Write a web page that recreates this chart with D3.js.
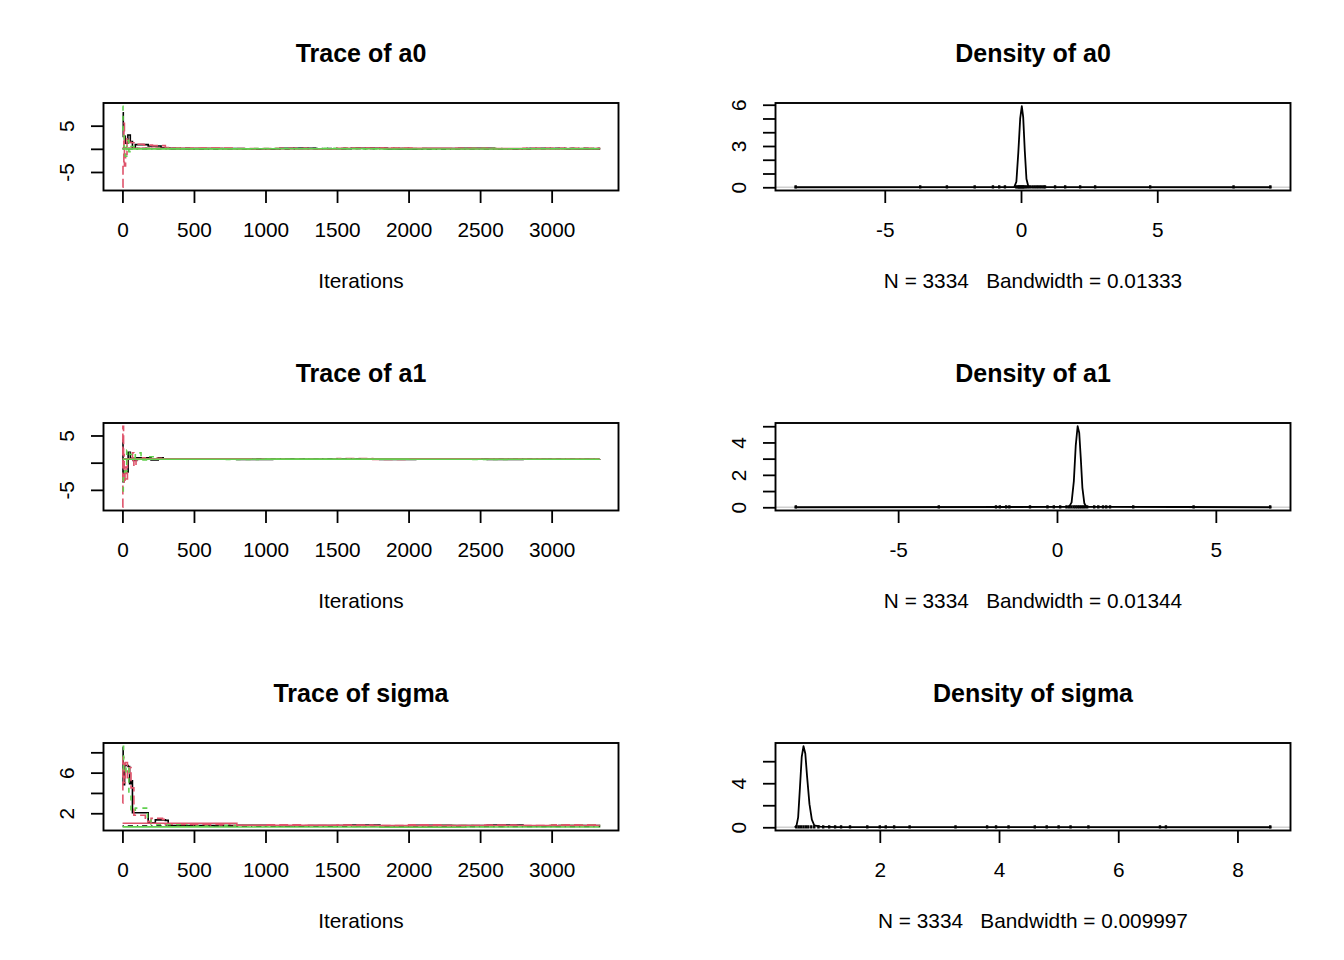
<!DOCTYPE html>
<html>
<head>
<meta charset="utf-8">
<script src="https://cdn.jsdelivr.net/npm/d3@7"></script>
<style>
  body { margin: 0; background: #fff; }
  svg text { font-family: "Liberation Sans", Arial, Helvetica, sans-serif; fill: #000; white-space: pre; }
</style>
</head>
<body>
<svg id="chart" width="1344" height="960"></svg>
<script>
// ---- data ----
var nIter = 3334;
var iterTicks = [0, 500, 1000, 1500, 2000, 2500, 3000];

// trace chains: [iteration, value]
var a0Chain1 = [[1,7.8],[6,2.7],[20,1.2],[38,3.0],[55,1.6],[70,0.2],[90,0.9],[180,0.6],[270,0.25],[330,0.05],[600,0.08],[850,-0.03],[1100,0.1],[1350,0.02],[1600,0.12],[1850,-0.04],[2100,0.06],[2350,0.1],[2600,0.0],[2850,0.07],[3100,-0.02],[3334,0.04]];
var a0Chain2 = [[1,-8.3],[4,-3.8],[10,5.5],[14,-3.7],[22,-1.2],[32,2.4],[48,1.4],[62,1.3],[95,1.0],[150,0.8],[210,0.7],[300,0.3],[340,0.1],[550,0.15],[800,0.05],[1050,0.12],[1300,-0.02],[1550,0.1],[1800,0.15],[2050,0.03],[2300,0.11],[2550,-0.03],[2800,0.09],[3050,0.13],[3334,0.02]];
var a0Chain3 = [[1,9.2],[4,3.2],[12,0.3],[20,-1.6],[30,1.8],[45,-0.6],[60,0.5],[80,-0.3],[100,0.1],[400,0.06],[650,-0.04],[900,0.08],[1150,0.02],[1400,0.1],[1650,-0.03],[1900,0.07],[2150,0.0],[2400,0.09],[2650,0.03],[2900,-0.02],[3150,0.08],[3334,0.01]];
var a0Chain4 = [[1,0.05],[500,-0.05],[1200,0.08],[2000,-0.02],[2800,0.06],[3334,0.0]];
var a0Chain5 = [[1,0.1],[700,0.02],[1500,0.12],[2300,0.04],[3334,0.08]];
var a0Chain6 = [[1,0.0],[900,0.02],[1800,-0.02],[2700,0.01],[3334,0.0]];

var a1Chain1 = [[1,4.2],[4,-3.5],[10,-1.6],[28,-1.7],[40,1.9],[55,0.8],[75,0.4],[100,0.9],[200,0.5],[250,0.9],[285,0.64],[550,0.68],[800,0.6],[1050,0.7],[1300,0.62],[1550,0.72],[1800,0.58],[2050,0.66],[2300,0.7],[2550,0.6],[2800,0.67],[3050,0.63],[3334,0.69]];
var a1Chain2 = [[1,-8.2],[3,6.7],[8,1.5],[12,-3.8],[18,-0.8],[25,-3.0],[35,0.5],[70,1.8],[80,-0.7],[95,0.6],[120,0.9],[160,0.7],[240,0.8],[290,0.66],[500,0.72],[750,0.62],[1000,0.7],[1250,0.66],[1500,0.74],[1750,0.6],[2000,0.68],[2250,0.71],[2500,0.63],[2750,0.7],[3000,0.65],[3334,0.68]];
var a1Chain3 = [[1,-5.2],[6,-2.8],[15,-1.6],[30,2.3],[50,1.5],[70,0.9],[90,1.8],[130,0.5],[180,1.1],[230,0.7],[270,0.64],[450,0.7],[700,0.6],[950,0.68],[1200,0.72],[1450,0.62],[1700,0.69],[1950,0.64],[2200,0.71],[2450,0.61],[2700,0.67],[2950,0.7],[3334,0.64]];
var a1Chain4 = [[1,0.66],[600,0.62],[1400,0.7],[2200,0.63],[3334,0.67]];
var a1Chain5 = [[1,0.7],[900,0.64],[1700,0.72],[2500,0.66],[3334,0.69]];
var a1Chain6 = [[1,0.64],[1000,0.65],[2000,0.63],[3334,0.64]];

var sigmaChain1 = [[1,8.5],[5,4.8],[15,6.7],[40,6.6],[50,4.9],[60,5.2],[70,2.05],[170,2.05],[180,1.05],[230,1.35],[300,1.3],[320,0.8],[550,0.78],[800,0.82],[1050,0.76],[1300,0.8],[1550,0.84],[1800,0.77],[2050,0.81],[2300,0.79],[2550,0.83],[2800,0.76],[3050,0.8],[3334,0.78]];
var sigmaChain2 = [[1,3.0],[3,7.5],[10,5.0],[20,7.0],[35,5.5],[50,6.5],[60,4.5],[80,1.8],[130,1.8],[160,1.2],[200,1.5],[280,1.4],[300,0.9],[500,0.85],[750,0.8],[1000,0.86],[1250,0.8],[1500,0.84],[1750,0.78],[2000,0.85],[2250,0.8],[2500,0.83],[2750,0.79],[3000,0.86],[3334,0.81]];
var sigmaChain3 = [[1,8.6],[8,6.0],[25,6.6],[45,4.0],[60,2.2],[90,2.5],[150,2.5],[175,1.4],[200,0.9],[450,0.74],[700,0.78],[950,0.72],[1200,0.76],[1450,0.7],[1700,0.77],[1950,0.73],[2200,0.78],[2450,0.71],[2700,0.75],[2950,0.79],[3334,0.73]];
var sigmaChain4 = [[1,0.75],[800,0.72],[1600,0.76],[2400,0.71],[3334,0.74]];
var sigmaChain5 = [[1,1.02],[800,0.82],[1600,0.78],[2400,0.8],[3334,0.79]];
var sigmaChain6 = [[1,0.66],[600,0.64],[1200,0.65],[1800,0.62],[2400,0.64],[3334,0.65]];

// trace y ticks / labels
var a0TraceTicks = [-5, 0, 5], a0TraceLabels = [-5, 5];
var a1TraceTicks = [-5, 0, 5], a1TraceLabels = [-5, 5];
var sigmaTraceTicks = [2, 4, 6, 8], sigmaTraceLabels = [2, 6];

// density curves: [x, density]
var a0Density = [[-8.31,0],[-0.25,0.01],[-0.17,0.4],[-0.1,2.5],[-0.03,5.0],[0.03,5.89],[0.08,5.1],[0.14,2.6],[0.2,0.6],[0.27,0.06],[0.35,0.02],[9.19,0]];
var a1Density = [[-8.26,0],[0.38,0.02],[0.46,0.3],[0.53,1.6],[0.59,3.8],[0.65,5.0],[0.7,4.6],[0.75,3.0],[0.8,1.2],[0.86,0.25],[0.92,0.03],[6.75,0]];
var sigmaDensity = [[0.57,0],[0.6,0.08],[0.63,0.9],[0.66,3.6],[0.69,6.4],[0.72,7.36],[0.75,6.7],[0.78,4.6],[0.82,2.1],[0.86,0.7],[0.9,0.18],[1.0,0.05],[1.3,0.02],[8.57,0]];

// observations shown under the densities
var a0Obs = [-8.27,-3.7,-2.72,-1.7,-1.03,-0.8,-0.59,-0.18,-0.12,-0.08,-0.04,0,0.04,0.08,0.12,0.18,0.25,0.33,0.42,0.5,0.58,0.66,0.74,0.82,0.88,1.25,1.62,2.17,2.72,4.74,7.8,9.15];
var a1Obs = [-8.22,-3.72,-1.92,-1.8,-1.6,-1.5,-0.85,-0.3,-0.1,0.1,0.3,0.38,0.45,0.52,0.58,0.64,0.7,0.76,0.82,0.88,0.95,1.17,1.3,1.45,1.55,1.67,2.4,4.3,6.71];
var sigmaObs = [0.6,0.64,0.68,0.72,0.76,0.8,0.85,0.9,0.97,1.05,1.15,1.25,1.35,1.5,1.79,2.0,2.1,2.24,2.5,3.27,3.8,3.95,4.16,4.6,4.8,5.0,5.2,5.5,6.7,6.8,8.55];

var a0DensXTicks = [-5, 0, 5], a0DensYTicks = [0,1,2,3,4,5,6], a0DensYLabels = [0, 3, 6];
var a1DensXTicks = [-5, 0, 5], a1DensYTicks = [0,1,2,3,4,5], a1DensYLabels = [0, 2, 4];
var sigmaDensXTicks = [2, 4, 6, 8], sigmaDensYTicks = [0,2,4,6], sigmaDensYLabels = [0, 4];

var bandwidths = ["0.01333", "0.01344", "0.009997"];
var paramNames = ["a0", "a1", "sigma"];

// ---- layout / styles ----
var rowTop = [103, 423, 743], boxH = 87.5;
var colLeft = [103.5, 775.5], boxW = 515;
var lw = 1.6;
var chainStyles = [
  { color: "#000000", dash: null },
  { color: "#DF536B", dash: "9,4" },
  { color: "#61D04F", dash: "5,5" },
  { color: "#000000", dash: "1.3,3.9,5.2,3.9" },
  { color: "#DF536B", dash: null },
  { color: "#61D04F", dash: null }
];

var svg = d3.select("#chart");

function pad(ext) {
  var r = ext[1] - ext[0];
  return [ext[0] - 0.04 * r, ext[1] + 0.04 * r];
}

function fmt(labels) {
  return function (d) { return labels.indexOf(d) >= 0 ? String(d) : ""; };
}

function drawAxes(g, x, y, L, T, xTicks, yTicks, yLabels) {
  var xa = g.append("g")
    .attr("transform", "translate(0," + (T + boxH) + ")")
    .call(d3.axisBottom(x).tickValues(xTicks).tickSize(12.5).tickSizeOuter(0).tickFormat(function (d) { return String(d); }));
  var ya = g.append("g")
    .attr("transform", "translate(" + L + ",0)")
    .call(d3.axisLeft(y).tickValues(yTicks).tickSize(12.5).tickSizeOuter(0).tickFormat(fmt(yLabels)));
  [xa, ya].forEach(function (a) {
    a.attr("font-size", null).attr("font-family", null);
    a.select(".domain").remove();
    a.selectAll(".tick line").attr("stroke", "#000").attr("stroke-width", 1.8);
    a.selectAll(".tick text").style("font-size", "20.8px");
  });
  xa.selectAll(".tick text").attr("y", 46).attr("dy", null);
  ya.selectAll(".tick text")
    .attr("x", null).attr("dy", null)
    .attr("text-anchor", "middle")
    .attr("transform", "translate(-30,0) rotate(-90)");
}

function frame(g, L, T, title, xTitle, id) {
  g.append("clipPath").attr("id", id).append("rect")
    .attr("x", L).attr("y", T).attr("width", boxW).attr("height", boxH);
  g.append("text").attr("x", L + boxW / 2).attr("y", T - 41.5)
    .attr("text-anchor", "middle").style("font-size", "25px").style("font-weight", "bold")
    .text(title);
  g.append("text").attr("x", L + boxW / 2).attr("y", T + boxH + 97.5)
    .attr("text-anchor", "middle").style("font-size", "20.8px")
    .text(xTitle);
}

function box(g, L, T) {
  g.append("rect").attr("x", L).attr("y", T).attr("width", boxW).attr("height", boxH)
    .attr("fill", "none").attr("stroke", "#000").attr("stroke-width", 1.9);
}

function tracePanel(row, name, chains, yTicks, yLabels) {
  var L = colLeft[0], T = rowTop[row];
  var g = svg.append("g");
  var allVals = [];
  chains.forEach(function (c) { c.forEach(function (p) { allVals.push(p[1]); }); });
  var x = d3.scaleLinear().domain(pad([1, nIter])).range([L, L + boxW]);
  var y = d3.scaleLinear().domain(pad(d3.extent(allVals))).range([T + boxH, T]);
  frame(g, L, T, "Trace of " + name, "Iterations", "clipT" + row);
  var line = d3.line().x(function (p) { return x(p[0]); }).y(function (p) { return y(p[1]); })
    .curve(d3.curveStepAfter);
  var pg = g.append("g").attr("clip-path", "url(#clipT" + row + ")");
  chains.forEach(function (c, i) {
    var s = chainStyles[i];
    pg.append("path").attr("d", line(c)).attr("fill", "none")
      .attr("stroke", s.color).attr("stroke-width", lw)
      .attr("stroke-dasharray", s.dash);
  });
  box(g, L, T);
  drawAxes(g, x, y, L, T, iterTicks, yTicks, yLabels);
}

function densityPanel(row, name, dens, obs, xTicks, yTicks, yLabels, bw) {
  var L = colLeft[1], T = rowTop[row];
  var g = svg.append("g");
  var maxY = d3.max(dens, function (p) { return p[1]; });
  var x = d3.scaleLinear().domain(pad(d3.extent(dens, function (p) { return p[0]; }))).range([L, L + boxW]);
  var y = d3.scaleLinear().domain(pad([0, maxY])).range([T + boxH, T]);
  frame(g, L, T, "Density of " + name, "N = 3334   Bandwidth = " + bw, "clipD" + row);
  var pg = g.append("g").attr("clip-path", "url(#clipD" + row + ")");
  // zero line
  pg.append("line").attr("x1", L).attr("x2", L + boxW).attr("y1", y(0)).attr("y2", y(0))
    .attr("stroke", "#d0d0d0").attr("stroke-width", 1.5);
  var line = d3.line().x(function (p) { return x(p[0]); }).y(function (p) { return y(p[1]); });
  pg.append("path").attr("d", line(dens)).attr("fill", "none")
    .attr("stroke", "#000").attr("stroke-width", 1.8).attr("stroke-linejoin", "round");
  pg.selectAll("line.obs").data(obs).enter().append("line").attr("class", "obs")
    .attr("x1", function (d) { return x(d); }).attr("x2", function (d) { return x(d); })
    .attr("y1", y(0)).attr("y2", y(maxY / 100))
    .attr("stroke", "#000").attr("stroke-width", 2.4).attr("stroke-linecap", "square");
  box(g, L, T);
  drawAxes(g, x, y, L, T, xTicks, yTicks, yLabels);
}

tracePanel(0, paramNames[0], [a0Chain1, a0Chain2, a0Chain3, a0Chain4, a0Chain5, a0Chain6], a0TraceTicks, a0TraceLabels);
tracePanel(1, paramNames[1], [a1Chain1, a1Chain2, a1Chain3, a1Chain4, a1Chain5, a1Chain6], a1TraceTicks, a1TraceLabels);
tracePanel(2, paramNames[2], [sigmaChain1, sigmaChain2, sigmaChain3, sigmaChain4, sigmaChain5, sigmaChain6], sigmaTraceTicks, sigmaTraceLabels);

densityPanel(0, paramNames[0], a0Density, a0Obs, a0DensXTicks, a0DensYTicks, a0DensYLabels, bandwidths[0]);
densityPanel(1, paramNames[1], a1Density, a1Obs, a1DensXTicks, a1DensYTicks, a1DensYLabels, bandwidths[1]);
densityPanel(2, paramNames[2], sigmaDensity, sigmaObs, sigmaDensXTicks, sigmaDensYTicks, sigmaDensYLabels, bandwidths[2]);
</script>
</body>
</html>
